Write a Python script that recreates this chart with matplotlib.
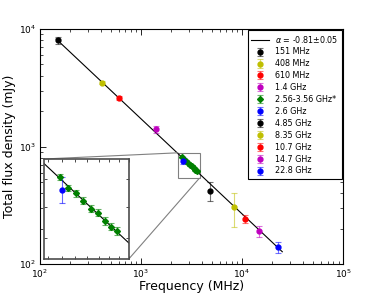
import numpy as np
import matplotlib
matplotlib.use('Agg')
import matplotlib.pyplot as plt
from mpl_toolkits.axes_grid1.inset_locator import mark_inset

labels = ['151 MHz', '408 MHz', '610 MHz', '1.4 GHz', '2.56-3.56 GHz*', '2.6 GHz',
          '4.85 GHz', '8.35 GHz', '10.7 GHz', '14.7 GHz', '22.8 GHz']
freqs  = [[151], [408], [610], [1400],
          [2560, 2685, 2810, 2935, 3060, 3185, 3310, 3435, 3560],
          [2600], [4850], [8350], [10700], [14700], [22800]]
fluxes = [[8000], [3500], [2600], [1400],
          [809, 767, 747, 721, 693, 679, 652, 634, 620],
          [760], [420], [305], [242], [191], [140]]
errors = [[500], [100], [100], [90],
          [12, 12, 12, 12, 12, 12, 12, 12, 12],
          [48], [75], [100], [18], [20], [15]]
colors = ['k', 'y', 'r', 'm', 'g', 'b', 'k', 'y', 'r', 'm', 'b']
markers = ['o', 'o', 'o', 'o', 'D', 'o', 'o', 'o', 'o', 'o', 'o']

# power law fit
ALPHA = -0.81
AMP = 1725.0          # mJy at 1 GHz
fit_range = [145, 25000]

plt.rcParams['xtick.direction'] = 'in'
plt.rcParams['ytick.direction'] = 'in'
plt.rcParams['xtick.top'] = True
plt.rcParams['ytick.right'] = True
plt.rcParams['xtick.labelsize'] = 6.5
plt.rcParams['ytick.labelsize'] = 6.5

fig = plt.figure(figsize=(3.83, 2.94), dpi=100)
ax = fig.add_axes([0.104, 0.102, 0.792, 0.799])

nu = np.logspace(np.log10(fit_range[0]), np.log10(fit_range[1]), 200)
fit_label = r'$\alpha$ = -0.81$\pm$0.05'
ax.plot(nu, AMP * (nu / 1000.0) ** ALPHA, color='k', lw=0.8, label=fit_label)

for lab, f, s, e, c, m in zip(labels, freqs, fluxes, errors, colors, markers):
    ms = 3 if m == 'D' else 3.5
    ecol = matplotlib.colors.to_rgba(c, 0.55)
    ax.errorbar(f, s, yerr=e, fmt=m, color=c, ecolor=ecol, ms=ms, mec=c,
                capsize=2, elinewidth=0.8, capthick=0.8, label=lab)

ax.set_xscale('log')
ax.set_yscale('log')
ax.set_xlim(100, 1e5)
ax.set_ylim(100, 1e4)
ax.set_xlabel('Frequency (MHz)', fontsize=9, labelpad=0)
ax.set_ylabel('Total flux density (mJy)', fontsize=9, labelpad=2)
ax.tick_params(which='major', length=4, width=0.6, pad=2.5)
ax.tick_params(which='minor', length=2, width=0.5)

leg = ax.legend(loc='upper right', fontsize=5.8, numpoints=1, borderaxespad=0.15,
                labelspacing=0.36, handlelength=2.2, fancybox=False, framealpha=1)
leg.get_frame().set_edgecolor('k')
leg.get_frame().set_linewidth(0.8)

# zoomed inset on the 2.56-3.56 GHz points
axins = ax.inset_axes([0.013, 0.021, 0.28, 0.426])
axins.plot(nu, AMP * (nu / 1000.0) ** ALPHA, color='k', lw=0.8)
for f, s, e, c, m in zip(freqs[4:6], fluxes[4:6], errors[4:6], colors[4:6], markers[4:6]):
    ecol = matplotlib.colors.to_rgba(c, 0.6)
    axins.errorbar(f, s, yerr=e, fmt=m, color=c, ecolor=ecol, ms=3.5 if m == 'o' else 3,
                   mec=c, capsize=2, elinewidth=0.8, capthick=0.8)
axins.set_xscale('log')
axins.set_yscale('log')
axins.set_xlim(2340, 3800)
axins.set_ylim(540, 885)
axins.xaxis.set_major_formatter(plt.NullFormatter())
axins.xaxis.set_minor_formatter(plt.NullFormatter())
axins.yaxis.set_major_formatter(plt.NullFormatter())
axins.yaxis.set_minor_formatter(plt.NullFormatter())
axins.tick_params(which='both', length=2, width=0.5)
for sp in axins.spines.values():
    sp.set_edgecolor('0.3')
    sp.set_linewidth(1.2)
mark_inset(ax, axins, loc1=2, loc2=4, fc='none', ec='0.5', lw=0.8)

fig.savefig('out.png', dpi=100)
